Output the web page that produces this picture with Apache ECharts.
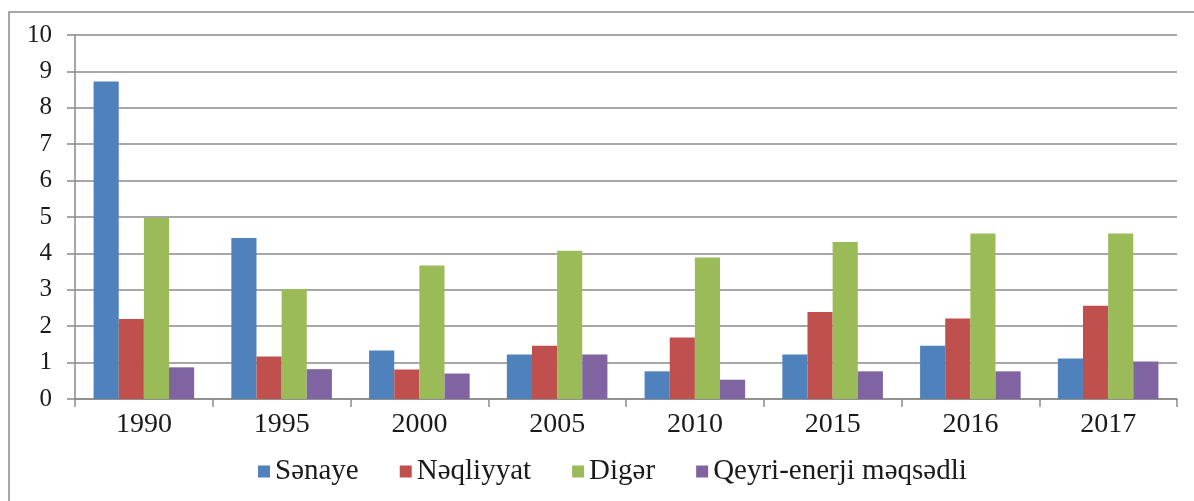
<!DOCTYPE html>
<html>
<head>
<meta charset="utf-8">
<script src="https://cdn.jsdelivr.net/npm/echarts@6/dist/echarts.min.js"></script>
<style>
  html, body { margin: 0; padding: 0; background: #fff; }
  #chart { width: 1194px; height: 501px; }
</style>
</head>
<body>
<div id="chart"></div>
<script>
  // illerə görə kateqoriyalar
  var years = ['1990', '1995', '2000', '2005', '2010', '2015', '2016', '2017'];
  var seriesNames = ['Sənaye', 'Nəqliyyat', 'Digər', 'Qeyri-enerji məqsədli'];
  var senaye   = [8.72, 4.42, 1.33, 1.22, 0.76, 1.22, 1.46, 1.11];
  var neqliyat = [2.20, 1.17, 0.81, 1.46, 1.69, 2.39, 2.21, 2.56];
  var diger    = [4.97, 3.02, 3.67, 4.07, 3.89, 4.31, 4.55, 4.55];
  var qeyri    = [0.87, 0.82, 0.70, 1.22, 0.53, 0.76, 0.76, 1.03];
  var colors = ['#4F81BD', '#C0504D', '#9BBB59', '#8064A2'];

  var serifFont = '"Liberation Serif", serif';
  var myChart = echarts.init(document.getElementById('chart'));
  var dataList = [senaye, neqliyat, diger, qeyri];
  var series = [];
  for (var i = 0; i < seriesNames.length; i++) {
    series.push({
      name: seriesNames[i],
      type: 'bar',
      data: dataList[i],
      barGap: '0%',
      barCategoryGap: '27%',
      itemStyle: { color: colors[i] }
    });
  }

  myChart.setOption({
    animation: false,
    color: colors,
    textStyle: { fontFamily: serifFont },
    graphic: [{
      type: 'rect',
      shape: { x: 9, y: 12, width: 1200, height: 520 },
      style: { fill: 'none', stroke: '#8a8a8a', lineWidth: 1.5 },
      silent: true
    }],
    legend: {
      data: seriesNames,
      left: 253,
      top: 452,
      icon: 'rect',
      itemWidth: 12,
      itemHeight: 12,
      itemGap: 41,
      textStyle: { fontFamily: serifFont, fontSize: 29, color: '#1a1a1a' }
    },
    grid: { left: 75, right: 17, top: 35, bottom: 102 },
    xAxis: {
      type: 'category',
      data: years,
      axisLine: { lineStyle: { color: '#8a8a8a', width: 1.5 } },
      axisTick: { show: true, length: 8, lineStyle: { color: '#8a8a8a', width: 1.5 } },
      axisLabel: { fontFamily: serifFont, fontSize: 28, color: '#1a1a1a', margin: 12 }
    },
    yAxis: {
      type: 'value',
      min: 0,
      max: 10,
      interval: 1,
      axisLine: { show: true, lineStyle: { color: '#8a8a8a', width: 1.5 } },
      axisTick: { show: true, length: 8, lineStyle: { color: '#8a8a8a', width: 1.5 } },
      splitLine: { lineStyle: { color: '#8a8a8a', width: 1.5 } },
      axisLabel: { fontFamily: serifFont, fontSize: 25, color: '#1a1a1a', margin: 23 }
    },
    series: series
  });
</script>
</body>
</html>
